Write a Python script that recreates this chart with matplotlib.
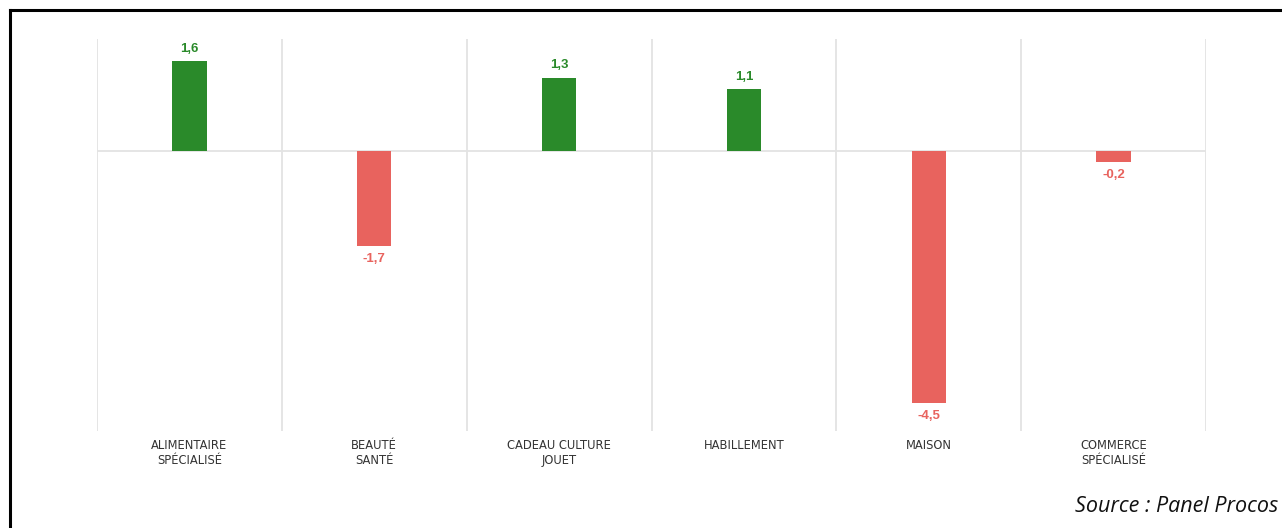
import matplotlib.pyplot as plt
from matplotlib.lines import Line2D

categories = ['ALIMENTAIRE\nSPÉCIALISÉ', 'BEAUTÉ\nSANTÉ', 'CADEAU CULTURE\nJOUET',
              'HABILLEMENT', 'MAISON', 'COMMERCE\nSPÉCIALISÉ']
values = [1.6, -1.7, 1.3, 1.1, -4.5, -0.2]
value_labels = ['1,6', '-1,7', '1,3', '1,1', '-4,5', '-0,2']

green = '#2a8a2a'
red = '#e8635e'
grid = '#e3e3e3'

fig = plt.figure(figsize=(12.82, 5.28), dpi=100)
ax = fig.add_axes([0.0757, 0.1837, 0.865, 0.7423])

x = list(range(len(categories)))
colors = [green if v >= 0 else red for v in values]
ax.bar(x, values, width=0.185, color=colors, zorder=3)

ax.set_xlim(-0.5, len(categories) - 0.5)
ax.set_ylim(-5, 2)

# vertical separators between categories
for b in range(len(categories) + 1):
    ax.axvline(b - 0.5, color=grid, lw=1.3, zorder=1)
ax.axhline(0, color=grid, lw=1.3, zorder=1)

for xi, v, lab, c in zip(x, values, value_labels, colors):
    if v >= 0:
        ax.annotate(lab, (xi, v), xytext=(0, 5), textcoords='offset points',
                    ha='center', va='bottom', color=c, fontsize=9.5, fontweight='bold',
                    family='Liberation Sans')
    else:
        ax.annotate(lab, (xi, v), xytext=(0, -5), textcoords='offset points',
                    ha='center', va='top', color=c, fontsize=9.5, fontweight='bold',
                    family='Liberation Sans')

ax.set_xticks(x)
ax.set_xticklabels(categories, fontsize=8.3, color='#333333', linespacing=1.2,
                   family='DejaVu Sans')
ax.tick_params(axis='x', length=0, pad=6)
ax.set_yticks([])
for s in ax.spines.values():
    s.set_visible(False)

fig.text(0.997, 0.03, 'Source : Panel Procos', ha='right', va='baseline',
         fontsize=15.5, style='italic', family='Open Sans', color='#111111')

# black frame top and left
fig.add_artist(Line2D([10 / 1282, 1], [1 - 10 / 528, 1 - 10 / 528], color='black', lw=2.2,
                      transform=fig.transFigure))
fig.add_artist(Line2D([10 / 1282, 10 / 1282], [0, 1 - 10 / 528], color='black', lw=2.2,
                      transform=fig.transFigure))

fig.savefig('out.png', dpi=100)
